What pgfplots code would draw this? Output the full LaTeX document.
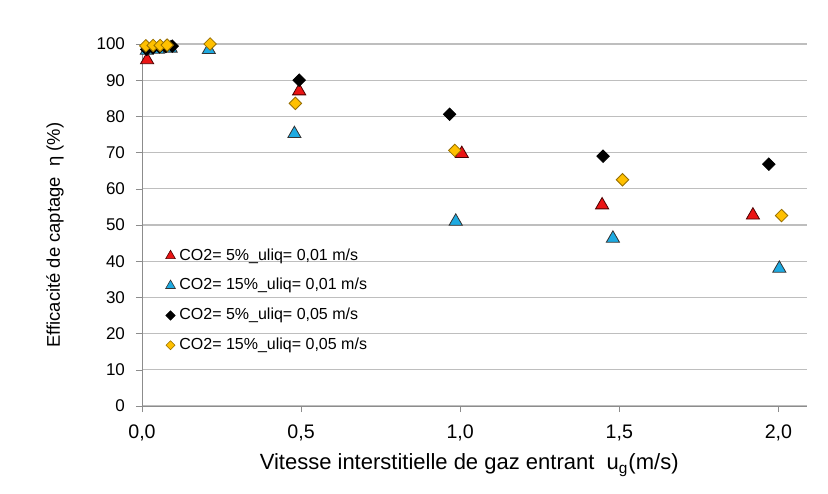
\documentclass[border=0pt]{standalone}
\usepackage{pgfplots}
\pgfplotsset{compat=1.18}
\usepackage{fontspec}
\setmainfont{Liberation Sans}
\definecolor{gridgray}{RGB}{190,190,190}
\definecolor{axgray}{RGB}{140,140,140}
\definecolor{myred}{RGB}{235,20,20}
\definecolor{myblue}{RGB}{30,170,225}
\definecolor{myorange}{RGB}{255,192,0}
\definecolor{darkgold}{RGB}{150,110,0}
\begin{document}
\begin{tikzpicture}
\useasboundingbox (-71pt,-43.5pt) rectangle (343pt,203pt);
\begin{axis}[
  at={(0,0)}, anchor=south west,
  scale only axis, width=332.5pt, height=181pt,
  xmin=0, xmax=2.09, ymin=0, ymax=100,
  axis x line*=bottom, axis y line*=left,
  axis line style={axgray},
  xtick={0,0.5,1,1.5,2}, ytick={0,10,...,100},
  tick align=outside, major tick length=3pt,
  tick style={axgray},
  ymajorgrids, grid style={gridgray, line width=0.6pt},
  /pgf/number format/assume math mode=true,
  yticklabel style={font=\fontsize{8.5}{10}\selectfont, xshift=-2pt},
  xticklabel style={/pgf/number format/fixed, /pgf/number format/fixed zerofill, /pgf/number format/precision=1, /pgf/number format/use comma, yshift=-3pt, font=\fontsize{9.8}{11}\selectfont},
  xlabel={Vitesse interstitielle de gaz entrant\ \ u$_{\mathrm{g}}$(m/s)},
  ylabel={Efficacité de captage\ \ η (\%)},
  xlabel style={font=\fontsize{11}{13}\selectfont, at={(axis description cs:0.492,-0.163)}, anchor=center},
  ylabel style={font=\fontsize{9.2}{11}\selectfont, at={(axis description cs:-0.131,0.472)}, anchor=center, rotate=0},
  legend style={draw=none, fill=none, at={(0.035,0.447)}, anchor=north west,
    font=\fontsize{8}{9}\selectfont, row sep=3.6pt, inner sep=0pt},
  legend cell align=left,
  legend image post style={xshift=4pt},
]
\addplot[forget plot, only marks, mark=triangle*, mark size=3.8pt, mark options={fill=myred, draw=black!70!red, line width=0.4pt}]
 coordinates {(0.016,95.6) (0.494,87) (1.005,69.7) (1.446,55.5) (1.92,52.7)};
\addplot[forget plot, only marks, mark=triangle*, mark size=3.8pt, mark options={fill=myblue, draw=black!80, line width=0.4pt}]
 coordinates {(0.015,98.2) (0.05,98.5) (0.09,98.8) (0.21,98.4) (0.479,75.2) (0.986,51) (1.48,46.3) (2.003,38)};
\addplot[forget plot, only marks, mark=square*, mark size=2.2pt, mark options={rotate=45, fill=black, draw=black}]
 coordinates {(0.015,98.5) (0.035,99) (0.055,99.2) (0.075,99.3) (0.095,99.4) (0.494,90) (0.967,80.6) (1.449,69) (1.97,66.8)};
\addplot[forget plot, only marks, mark=square*, mark size=2.2pt, mark options={rotate=45, fill=myorange, draw=darkgold, line width=0.4pt}]
 coordinates {(0.012,99.5) (0.035,99.6) (0.057,99.6) (0.079,99.7) (0.214,100) (0.482,83.6) (0.983,70.6) (1.51,62.5) (2.01,52.6)};
\addlegendimage{only marks, mark=triangle*, mark size=2.8pt, mark options={fill=myred, draw=black!70!red, line width=0.3pt}}
\addlegendentry{CO2= 5\%\_uliq= 0,01 m/s}
\addlegendimage{only marks, mark=triangle*, mark size=2.8pt, mark options={fill=myblue, draw=black!80, line width=0.3pt}}
\addlegendentry{CO2= 15\%\_uliq= 0,01 m/s}
\addlegendimage{only marks, mark=square*, mark size=1.6pt, mark options={rotate=45, fill=black, draw=black}}
\addlegendentry{CO2= 5\%\_uliq= 0,05 m/s}
\addlegendimage{only marks, mark=square*, mark size=1.6pt, mark options={rotate=45, fill=myorange, draw=darkgold, line width=0.3pt}}
\addlegendentry{CO2= 15\%\_uliq= 0,05 m/s}
\end{axis}
\end{tikzpicture}
\end{document}
